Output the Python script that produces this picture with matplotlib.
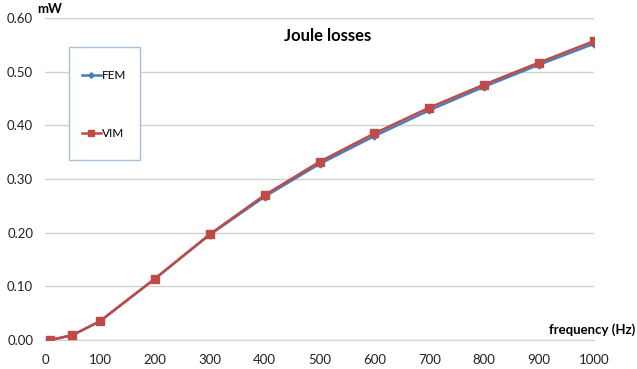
import matplotlib
matplotlib.use("Agg")
import matplotlib.pyplot as plt
from matplotlib.patches import Rectangle

freq = [10, 50, 100, 200, 300, 400, 500, 600, 700, 800, 900, 1000]
fem = [0.000, 0.009, 0.035, 0.114, 0.196, 0.267, 0.328, 0.380, 0.428, 0.472, 0.513, 0.552]
vim = [0.000, 0.009, 0.035, 0.114, 0.197, 0.270, 0.332, 0.385, 0.433, 0.476, 0.517, 0.557]
yticks = [0.0, 0.1, 0.2, 0.3, 0.4, 0.5, 0.6]
xticks = [0, 100, 200, 300, 400, 500, 600, 700, 800, 900, 1000]

plt.rcParams['font.family'] = ['Lato', 'DejaVu Sans']

fig = plt.figure(figsize=(6.37, 3.69), dpi=100)
ax = fig.add_axes([45/637, 1-340/369, (594-45)/637, (340-18)/369])

ax.plot(freq, fem, color='#4a7ebb', lw=1.8, marker='D', ms=3.5, label='FEM', zorder=3)
ax.plot(freq, vim, color='#be4b48', lw=1.8, marker='s', ms=6, label='VIM', zorder=4)

ax.set_xlim(0, 1000)
ax.set_ylim(0, 0.6)
ax.set_xticks(xticks)
ax.set_yticks(yticks)
ax.set_yticklabels([f"{v:.2f}" for v in yticks])
ax.tick_params(length=0, labelsize=9.5, colors='#222222')
ax.tick_params(axis='y', pad=8.5)
ax.tick_params(axis='x', pad=10)
ax.grid(axis='y', color='#d0d0d0', lw=1)
for s in ['top', 'right', 'left']:
    ax.spines[s].set_visible(False)
ax.spines['bottom'].set_color('#d0d0d0')
ax.set_axisbelow(True)

fig.text(328/637, 1-36/369, 'Joule losses', ha='center', va='center', fontsize=12, fontweight='bold')
fig.text(37/637, 1-9/369, 'mW', ha='left', va='center', fontsize=9.5, fontweight='bold')
fig.text(635/637, 1-330/369, 'frequency (Hz)', ha='right', va='center', fontsize=9.5, fontweight='bold')

# legend frame
ax.add_patch(Rectangle((69/637, 1-160/369), 71/637, 113/369, transform=fig.transFigure,
                       facecolor='white', edgecolor='#a7c0de', lw=1, zorder=5, clip_on=False))
leg = ax.legend(loc='upper left', bbox_to_anchor=(82/637, 1-70/369), bbox_transform=fig.transFigure,
                fontsize=8.5, labelspacing=4.0, borderpad=0, borderaxespad=0, handlelength=1.6,
                handletextpad=0.1, frameon=False, markerscale=0.8)
leg.set_zorder(6)

fig.savefig('out.png', dpi=100)
